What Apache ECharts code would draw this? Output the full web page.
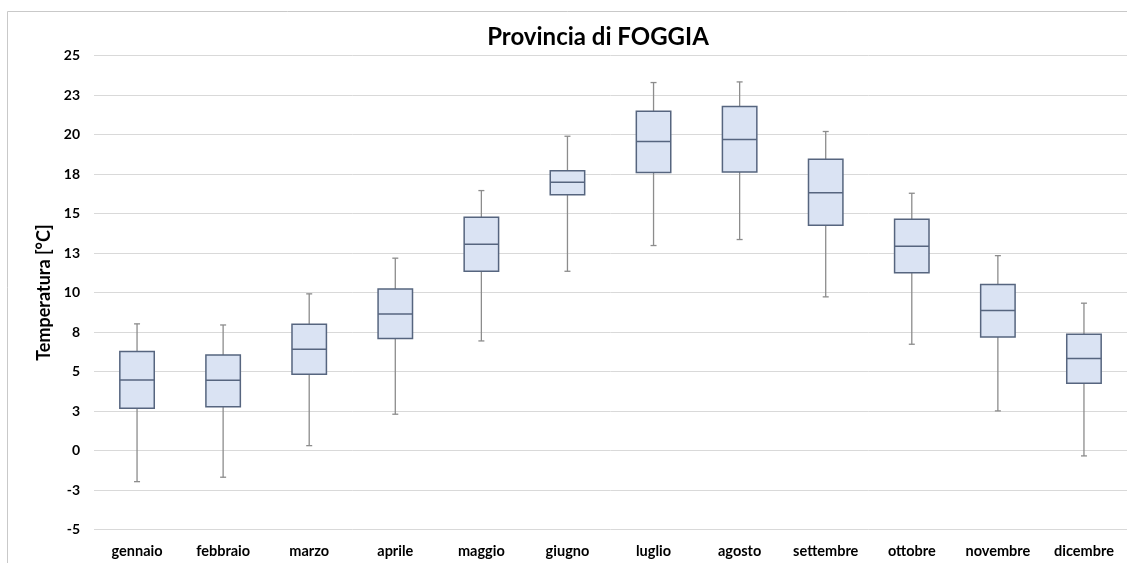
<!DOCTYPE html>
<html>
<head>
<meta charset="utf-8">
<script src="https://cdn.jsdelivr.net/npm/echarts@6/dist/echarts.min.js"></script>
<style>
html,body{margin:0;padding:0;background:#fff;}
#c{width:1127px;height:563px;}
</style>
</head>
<body>
<div id="c"></div>
<script>
const months = ['gennaio','febbraio','marzo','aprile','maggio','giugno','luglio','agosto','settembre','ottobre','novembre','dicembre'];
const whiskerLow  = [-1.97, -1.69, 0.31, 2.30, 6.94, 11.35, 12.98, 13.36, 9.73, 6.73, 2.51, -0.34];
const q1          = [2.68, 2.78, 4.83, 7.09, 11.35, 16.19, 17.60, 17.64, 14.27, 11.25, 7.19, 4.26];
const median      = [4.47, 4.45, 6.41, 8.65, 13.06, 16.99, 19.56, 19.69, 16.33, 12.94, 8.86, 5.82];
const q3          = [6.27, 6.05, 8.00, 10.23, 14.77, 17.71, 21.49, 21.78, 18.45, 14.65, 10.51, 7.37];
const whiskerHigh = [8.02, 7.95, 9.92, 12.18, 16.46, 19.90, 23.30, 23.34, 20.20, 16.29, 12.34, 9.33];
const yMin = -5, yMax = 25, yStep = 2.5;

const data = months.map((m, i) => [i, whiskerLow[i], q1[i], median[i], q3[i], whiskerHigh[i]]);
const FONT = 'Lato';

function excelRound(v){ return v < 0 ? -Math.round(-v) : Math.round(v); }

const chart = echarts.init(document.getElementById('c'));
chart.setOption({
  animation: false,
  backgroundColor: '#fff',
  graphic: [
    { type: 'rect', shape: { x: 7.5, y: 11.5, width: 1130, height: 560 }, style: { fill: 'none', stroke: '#c9c9c9', lineWidth: 1 }, z: -10 },
    { type: 'text', x: 598, y: 37, style: { text: 'Provincia di FOGGIA', font: 'bold 24px ' + FONT, fill: '#000', textAlign: 'center', textVerticalAlign: 'middle' } }
  ],
  grid: { left: 94, right: 0, top: 55.7, bottom: 33.5 },
  xAxis: {
    type: 'category',
    data: months,
    axisLine: { show: false },
    axisTick: { show: false },
    axisLabel: { fontFamily: FONT, fontWeight: 'bold', fontSize: 14.5, color: '#000', margin: 14, interval: 0 },
    splitLine: { show: false }
  },
  yAxis: {
    type: 'value',
    min: yMin, max: yMax, interval: yStep,
    name: 'Temperatura [°C]',
    nameLocation: 'middle',
    nameGap: 41,
    nameRotate: 90,
    nameTextStyle: { fontFamily: FONT, fontWeight: 'bold', fontSize: 18, color: '#000' },
    axisLine: { show: false },
    axisTick: { show: false },
    axisLabel: { fontFamily: FONT, fontWeight: 'bold', fontSize: 14, color: '#000', margin: 14, formatter: v => String(excelRound(v)) },
    splitLine: { lineStyle: { color: '#d9d9d9', width: 1 } }
  },
  series: [{
    type: 'custom',
    data: data,
    encode: { x: 0, y: [1, 2, 3, 4, 5] },
    renderItem: function (params, api) {
      const i = api.value(0);
      const pLow = api.coord([i, api.value(1)]);
      const pQ1 = api.coord([i, api.value(2)]);
      const pMed = api.coord([i, api.value(3)]);
      const pQ3 = api.coord([i, api.value(4)]);
      const pHigh = api.coord([i, api.value(5)]);
      const bw = api.size([1, 0])[0] * 0.4;
      const x = pMed[0];
      const half = bw / 2;
      const cap = 3;
      const wStyle = { stroke: '#8c8c8c', lineWidth: 1.3 };
      const bStyle = { stroke: '#56657f', lineWidth: 1.5 };
      return {
        type: 'group',
        children: [
          { type: 'line', shape: { x1: x, y1: pHigh[1], x2: x, y2: pQ3[1] }, style: wStyle },
          { type: 'line', shape: { x1: x, y1: pQ1[1], x2: x, y2: pLow[1] }, style: wStyle },
          { type: 'line', shape: { x1: x - cap, y1: pHigh[1], x2: x + cap, y2: pHigh[1] }, style: wStyle },
          { type: 'line', shape: { x1: x - cap, y1: pLow[1], x2: x + cap, y2: pLow[1] }, style: wStyle },
          { type: 'rect', shape: { x: x - half, y: pQ3[1], width: bw, height: pQ1[1] - pQ3[1] }, style: { fill: '#dae3f3', stroke: '#56657f', lineWidth: 1.5 } },
          { type: 'line', shape: { x1: x - half, y1: pMed[1], x2: x + half, y2: pMed[1] }, style: bStyle }
        ]
      };
    }
  }]
});
</script>
</body>
</html>
